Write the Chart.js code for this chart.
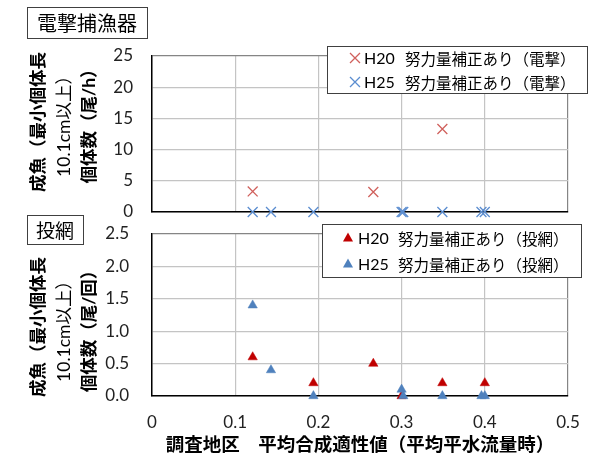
<!DOCTYPE html>
<html>
<head>
<meta charset="utf-8">
<script src="https://cdn.jsdelivr.net/npm/chart.js@4.4.1/dist/chart.umd.min.js"></script>
<style>
  body { margin: 0; background: #fff; }
  #wrap { position: relative; width: 596px; height: 457px; }
  canvas { position: absolute; left: 0; top: 0; }
</style>
</head>
<body>
<div id="wrap">
  <canvas id="top" width="596" height="457"></canvas>
  <canvas id="bottom" width="596" height="457"></canvas>
</div>
<script>
// ** DATA: ** //

var xTicks = [0, 0.1, 0.2, 0.3, 0.4, 0.5];

// electrofishing (top)
var denH20x = [0.121, 0.266, 0.349];
var denH20y = [3.3, 3.2, 13.3];
var denH25x = [0.121, 0.143, 0.194, 0.300, 0.302, 0.349, 0.396, 0.400];
var denH25y = [0, 0, 0, 0, 0, 0, 0, 0];

// cast net (bottom)
var touH20x = [0.121, 0.194, 0.266, 0.300, 0.349, 0.400];
var touH20y = [0.6, 0.2, 0.5, 0.0, 0.2, 0.2];
var touH25x = [0.121, 0.143, 0.194, 0.300, 0.302, 0.349, 0.396, 0.400];
var touH25y = [1.4, 0.4, 0.0, 0.1, 0.0, 0.0, 0.0, 0.0];

var topLegend = [['H20', '努力量補正あり（電撃）'], ['H25', '努力量補正あり（電撃）']];
var bottomLegend = [['H20', '努力量補正あり（投網）'], ['H25', '努力量補正あり（投網）']];
var topYTitle = ['成魚（最小個体長', '10.1cm以上）', '個体数（尾/h）'];
var bottomYTitle = ['成魚（最小個体長', '10.1cm以上）', '個体数（尾/回）'];
var xTitle = '調査地区　平均合成適性値（平均平水流量時）';

// ** FUNCTIONS: ** //

var RED_X = '#D0605C';
var BLUE_X = '#5B8DD0';
var RED_T = '#C00000';
var BLUE_T = '#4F81BD';
var NUM = 'Lato, "Noto Sans CJK JP"';
var JP = '"Noto Sans CJK JP", sans-serif';

function toPoints(xs, ys) {
	var pts = [];
	for (var i = 0; i < xs.length; i++) {
		pts.push({x: xs[i], y: ys[i]});
	}
	return pts;
}

function drawCross(ctx, x, y, color) {
	ctx.strokeStyle = color;
	ctx.lineWidth = 1.3;
	ctx.beginPath();
	ctx.moveTo(x - 5, y - 5); ctx.lineTo(x + 5, y + 5);
	ctx.moveTo(x + 5, y - 5); ctx.lineTo(x - 5, y + 5);
	ctx.stroke();
}

function drawTri(ctx, x, y, color) {
	ctx.fillStyle = color;
	ctx.beginPath();
	ctx.moveTo(x, y - 5.5);
	ctx.lineTo(x + 5, y + 3.5);
	ctx.lineTo(x - 5, y + 3.5);
	ctx.closePath();
	ctx.fill();
}

function boxLabel(ctx, text, x, y, w, h, size) {
	ctx.fillStyle = '#fff';
	ctx.fillRect(x, y, w, h);
	ctx.strokeStyle = '#404040';
	ctx.lineWidth = 1;
	ctx.strokeRect(x + 0.5, y + 0.5, w, h);
	ctx.fillStyle = '#000';
	ctx.font = size + 'px ' + JP;
	ctx.textAlign = 'center';
	ctx.textBaseline = 'middle';
	ctx.fillText(text, x + w / 2, y + h / 2 + 1);
}

function yTitle(ctx, lines, cy) {
	var xs = [38, 64, 89];
	var fonts = ['bold 17.5px ' + NUM, '17.5px ' + NUM, 'bold 17.5px ' + NUM];
	ctx.fillStyle = '#000';
	ctx.textAlign = 'center';
	ctx.textBaseline = 'middle';
	for (var i = 0; i < lines.length; i++) {
		ctx.save();
		ctx.translate(xs[i], cy);
		ctx.rotate(-Math.PI / 2);
		ctx.font = fonts[i];
		ctx.fillText(lines[i], 0, 0);
		ctx.restore();
	}
}

function legendBox(ctx, box, labels, marker, colors, mx, tx, jx, rows) {
	ctx.fillStyle = '#fff';
	ctx.fillRect(box[0], box[1], box[2], box[3]);
	ctx.strokeStyle = '#404040';
	ctx.lineWidth = 1;
	ctx.strokeRect(box[0] + 0.5, box[1] + 0.5, box[2], box[3]);
	ctx.textAlign = 'left';
	ctx.textBaseline = 'middle';
	for (var i = 0; i < labels.length; i++) {
		marker(ctx, mx, rows[i], colors[i]);
		ctx.fillStyle = '#000';
		ctx.font = '16px ' + NUM;
		ctx.fillText(labels[i][0], tx, rows[i] + 1);
		ctx.font = '15.5px ' + JP;
		ctx.fillText(labels[i][1], jx, rows[i] + 1);
	}
}

function gridColor(max) {
	return function(c) {
		return (c.tick && c.tick.value === max) ? '#858585' : '#c4c4c4';
	};
}

function makeOptions(yMax, yStep, pad, showX, yFmt, ypad) {
	return {
		responsive: false,
		animation: false,
		layout: {padding: pad},
		plugins: {legend: {display: false}, tooltip: {enabled: false}},
		scales: {
			x: {
				type: 'linear', min: 0, max: 0.5,
				afterBuildTicks: function(s) { s.ticks = xTicks.map(function(v) { return {value: v}; }); },
				afterFit: function(s) { s.height = showX ? 61 : 0; },
				grid: {color: gridColor(0.5), drawTicks: false, lineWidth: 1.2},
				border: {color: '#000', width: 1.5},
				ticks: {
					display: showX, padding: 16, color: '#222',
					font: {family: NUM, size: 17},
					callback: function(v) { return v === 0 ? '0' : v.toFixed(1); }
				}
			},
			y: {
				min: 0, max: yMax,
				ticks: {stepSize: yStep, padding: ypad, color: '#222', font: {family: NUM, size: 17}, callback: yFmt},
				afterFit: function(s) { s.width = 60; },
				grid: {color: gridColor(yMax), drawTicks: false, lineWidth: 1.2},
				border: {color: '#000', width: 1.5}
			}
		}
	};
}

// ** ENTRY POINT: ** //

new Chart(document.getElementById('top'), {
	type: 'scatter',
	data: {
		datasets: [
			{label: 'H20', data: toPoints(denH20x, denH20y), order: 1, clip: false,
			 pointStyle: 'crossRot', pointRadius: 7, borderColor: RED_X, borderWidth: 1.3, backgroundColor: RED_X},
			{label: 'H25', data: toPoints(denH25x, denH25y), order: 0, clip: false,
			 pointStyle: 'crossRot', pointRadius: 7, borderColor: BLUE_X, borderWidth: 1.3, backgroundColor: BLUE_X}
		]
	},
	options: makeOptions(25, 5, {left: 92, right: 28, top: 56, bottom: 245}, false,
		function(v) { return String(v); }, 19),
	plugins: [{
		id: 'topDeco',
		afterDraw: function(chart) {
			var ctx = chart.ctx;
			boxLabel(ctx, '電撃捕漁器', 27, 7, 120, 31, 20);
			yTitle(ctx, topYTitle, 122);
			legendBox(ctx, [327, 46, 260, 47], topLegend, drawCross, [RED_X, BLUE_X], 355, 364, 405, [58, 82]);
		}
	}]
});

new Chart(document.getElementById('bottom'), {
	type: 'scatter',
	data: {
		datasets: [
			{label: 'H20', data: toPoints(touH20x, touH20y), order: 1, clip: false,
			 pointStyle: 'triangle', pointRadius: 5.4, borderColor: RED_T, borderWidth: 0.5, backgroundColor: RED_T},
			{label: 'H25', data: toPoints(touH25x, touH25y), order: 0, clip: false,
			 pointStyle: 'triangle', pointRadius: 5.4, borderColor: BLUE_T, borderWidth: 0.5, backgroundColor: BLUE_T}
		]
	},
	options: makeOptions(2.5, 0.5, {left: 92, right: 28, top: 234, bottom: 0}, true,
		function(v) { return v.toFixed(1); }, 23),
	plugins: [{
		id: 'bottomDeco',
		afterDraw: function(chart) {
			var ctx = chart.ctx;
			boxLabel(ctx, '投網', 27, 215, 56, 29, 19);
			yTitle(ctx, bottomYTitle, 327);
			legendBox(ctx, [322, 224, 259, 53], bottomLegend, drawTri, [RED_T, BLUE_T], 348, 358, 398, [238, 264]);
			ctx.fillStyle = '#000';
			ctx.font = 'bold 18.5px ' + JP;
			ctx.textAlign = 'center';
			ctx.textBaseline = 'middle';
			ctx.fillText(xTitle, 360, 444);
		}
	}]
});
</script>
</body>
</html>
